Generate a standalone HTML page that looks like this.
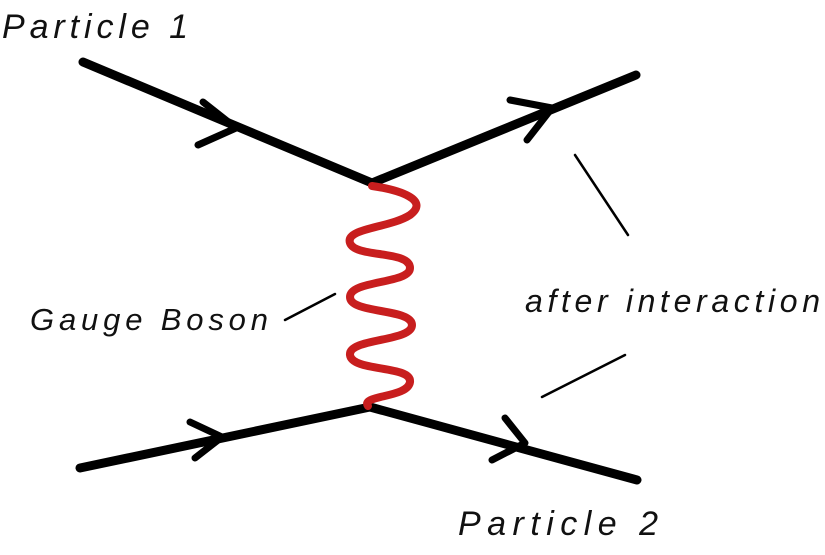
<!DOCTYPE html>
<html><head><meta charset="utf-8"><style>
html,body{margin:0;padding:0;background:#fff;}
svg{display:block;}
text{font-family:"Liberation Sans",sans-serif;fill:#111;}
</style></head><body>
<svg width="825" height="555" viewBox="0 0 825 555" xmlns="http://www.w3.org/2000/svg">
<g stroke="#000" stroke-width="9" stroke-linecap="round" fill="none">
<line x1="83" y1="62" x2="372" y2="183"/>
<line x1="372" y1="183" x2="636" y2="75"/>
<line x1="80" y1="468" x2="370" y2="407"/>
<line x1="370" y1="407" x2="637" y2="480"/>
</g>
<g stroke="#000" stroke-width="7" stroke-linecap="round" stroke-linejoin="round" fill="none">
<polyline points="203,102 236,128 198,145"/>
<polyline points="510,100 552,108 527,140"/>
<polyline points="190,422 222,437 195,458"/>
<polyline points="505,418 525,443 492,460"/>
</g>
<path d="M372,186 C400,190 430,200 410,215 C390,228 345,228 350,243 C355,258 410,250 410,268 C410,284 350,280 350,297 C350,314 412,308 412,325 C412,342 348,338 350,355 C352,372 412,365 410,382 C408,398 360,395 368,406"
 stroke="#c81e1e" stroke-width="8" fill="none" stroke-linecap="round"/>
<g stroke="#000" stroke-width="2.5" stroke-linecap="round">
<line x1="285" y1="320" x2="335" y2="294"/>
<line x1="575" y1="155" x2="628" y2="235"/>
<line x1="542" y1="397" x2="625" y2="355"/>
</g>
<text x="2" y="38" font-size="34" font-style="italic" textLength="186" lengthAdjust="spacing">Particle 1</text>
<text x="30" y="330" font-size="31" font-style="italic" textLength="238" lengthAdjust="spacing">Gauge Boson</text>
<text x="525" y="312" font-size="32" font-style="italic" textLength="295" lengthAdjust="spacing">after interaction</text>
<text x="458" y="535" font-size="34" font-style="italic" textLength="200" lengthAdjust="spacing">Particle 2</text>
</svg>
</body></html>
